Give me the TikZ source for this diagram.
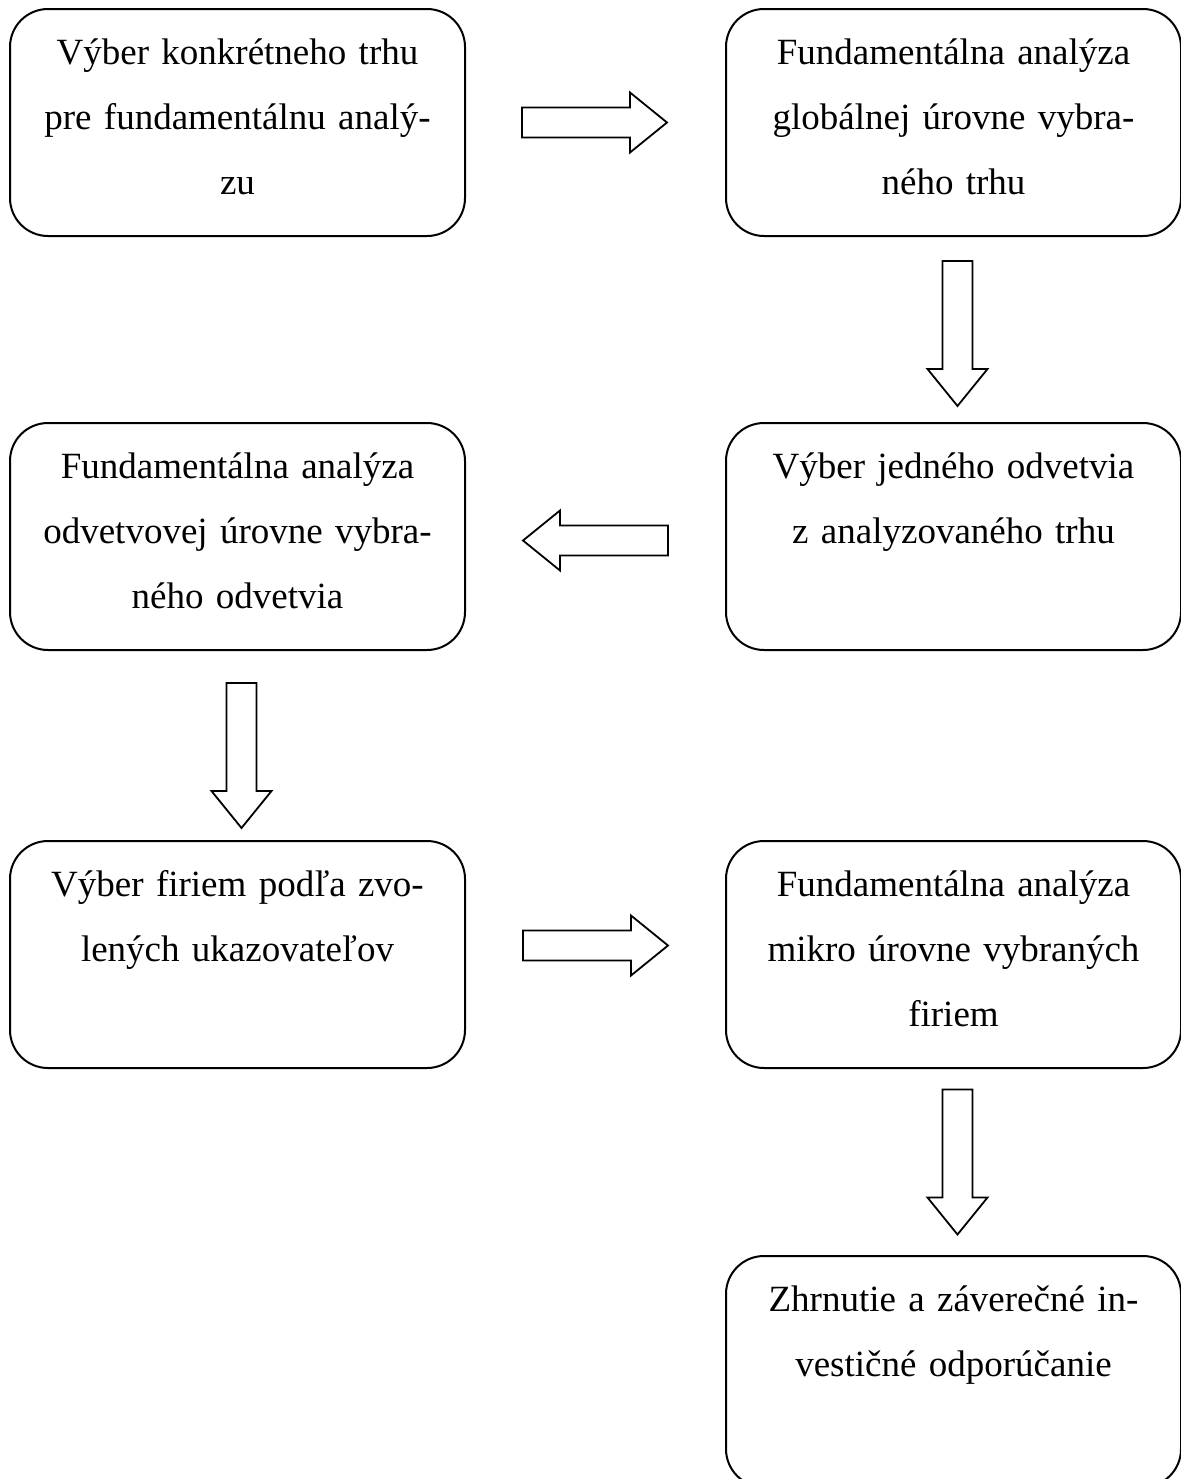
\documentclass[tikz,border=0pt]{standalone}
\usepackage{fontspec}
\setmainfont{Liberation Serif}
\usetikzlibrary{calc}

\begin{document}
\begin{tikzpicture}[x=0.5pt,y=-0.5pt,
    stepBox/.style={draw,line width=1pt,rounded corners=19pt,anchor=north west,
      inner sep=0pt,text width=227.5pt,align=center,
      text height=27.5pt,text depth=86pt,
      font=\fontsize{18.5pt}{32.5pt}\selectfont},
    blockLine/.style={draw,line width=0.9pt,fill=white}]%
  \def\lc{9}      % left column
  \def\rc{725}    % right column
  \def\al{72.5}   % half arrow length
  \def\ah{35.5}   % where the head starts
  \def\aw{15}     % half shaft width
  \def\hw{30}     % half head width

% define blockArrow (#from box, #to box, #angle, #dx, #dy)
  \def\blockArrow(#1,#2,#3,#4,#5){
    \draw[blockLine,shift={($(#1)!0.5!(#2)+(#4,#5)$)},rotate=#3]
      (-\al,-\aw) -- (\ah,-\aw) -- (\ah,-\hw) -- (\al,0)
      -- (\ah,\hw) -- (\ah,\aw) -- (-\al,\aw) -- cycle;}

  \useasboundingbox (0,0) rectangle (1181,1479);

  \node[stepBox] (b1) at (\lc,8)    {Výber konkrétneho trhu\\pre fundamentálnu analý-\\zu};
  \node[stepBox] (b2) at (\rc,8)    {Fundamentálna analýza\\globálnej úrovne vybra-\\ného trhu};
  \node[stepBox] (b3) at (\rc,422)  {Výber jedného odvetvia\\z analyzovaného trhu};
  \node[stepBox] (b4) at (\lc,422)  {Fundamentálna analýza\\odvetvovej úrovne vybra-\\ného odvetvia};
  \node[stepBox] (b5) at (\lc,840)  {Výber firiem podľa zvo-\\lených ukazovateľov};
  \node[stepBox] (b6) at (\rc,840)  {Fundamentálna analýza\\mikro úrovne vybraných\\firiem};
  \node[stepBox,text depth=88pt] (b7) at (\rc,1255) {Zhrnutie a záverečné in-\\vestičné odporúčanie};

  \blockArrow(b1,b2,0,-1,0)
  \blockArrow(b2,b3,-90,4,4)
  \blockArrow(b3,b4,180,0,4)
  \blockArrow(b4,b5,-90,4,10)
  \blockArrow(b5,b6,0,0,-9)
  \blockArrow(b6,b7,-90,4,-1)
\end{tikzpicture}
\end{document}
